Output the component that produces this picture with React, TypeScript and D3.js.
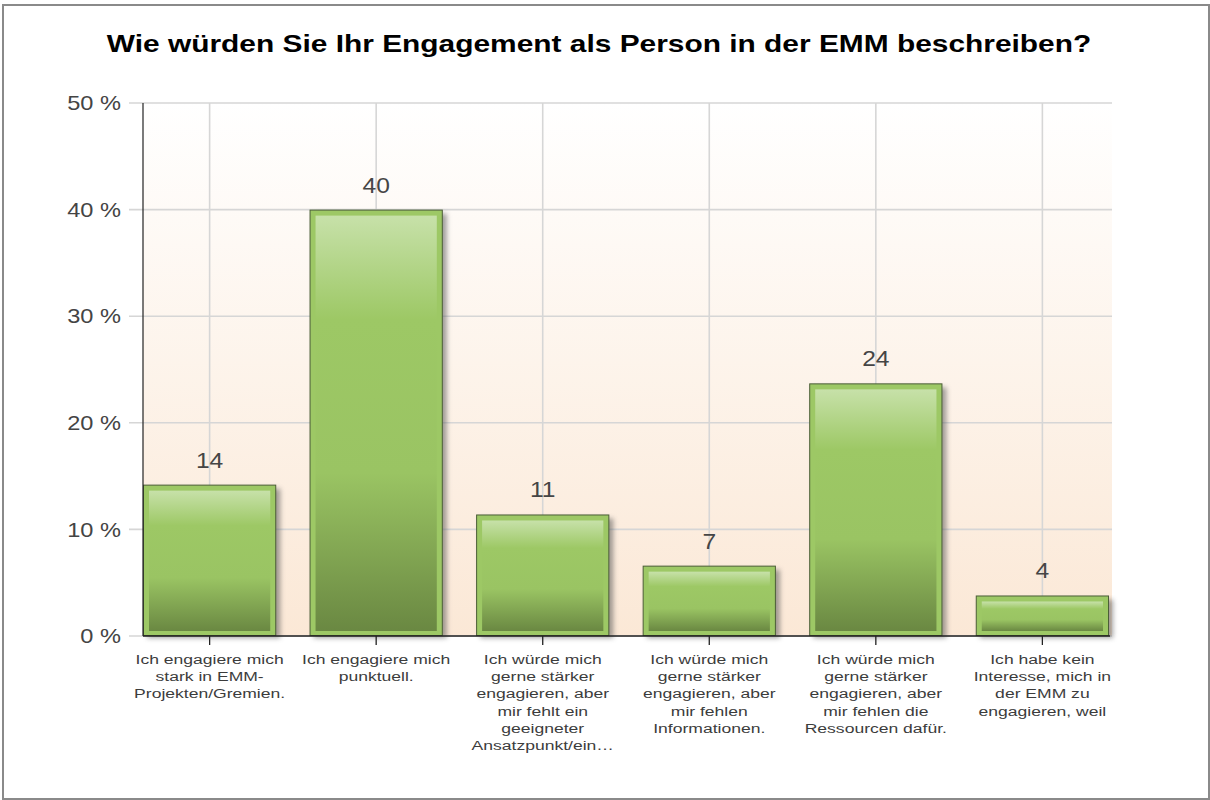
import React from "react";
import * as d3 from "d3";

// Survey: "Wie würden Sie Ihr Engagement als Person in der EMM beschreiben?"
const title = "Wie würden Sie Ihr Engagement als Person in der EMM beschreiben?";

const categories: string[][] = [
  ["Ich engagiere mich", "stark in EMM-", "Projekten/Gremien."],
  ["Ich engagiere mich", "punktuell."],
  ["Ich würde mich", "gerne stärker", "engagieren, aber", "mir fehlt ein", "geeigneter", "Ansatzpunkt/ein\u2026"],
  ["Ich würde mich", "gerne stärker", "engagieren, aber", "mir fehlen", "Informationen."],
  ["Ich würde mich", "gerne stärker", "engagieren, aber", "mir fehlen die", "Ressourcen dafür."],
  ["Ich habe kein", "Interesse, mich in", "der EMM zu", "engagieren, weil"],
];

const percents = [14.2, 40.0, 11.4, 6.6, 23.7, 3.8];
const yTicks = [0, 10, 20, 30, 40, 50];

const W = 1210;
const H = 800;
const FONT = "'Liberation Sans', Arial, Helvetica, sans-serif";

const margin = { top: 103, left: 143, right: 101, bottom: 164 };

export default function App() {
  const ids = categories.map((_, i) => String(i));
  const x = d3
    .scaleBand<string>()
    .domain(ids)
    .range([margin.left, W - margin.right])
    .paddingInner(0.2)
    .paddingOuter(0);
  const y = d3
    .scaleLinear()
    .domain([0, 50])
    .range([H - margin.bottom, margin.top]);

  const x0 = margin.left;
  const x1 = W - margin.right + 3;
  const yBottom = y(0);
  const yTop = y(50);
  const bw = x.bandwidth();

  return (
    <svg
      width={W}
      height={H}
      style={{ position: "absolute", left: 0, top: 0, fontFamily: FONT }}
    >
      <defs>
        <linearGradient id="plotBg" x1="0" y1="0" x2="0" y2="1">
          <stop offset="0" stopColor="#ffffff" />
          <stop offset="1" stopColor="#fbe8d6" />
        </linearGradient>
        <linearGradient id="barFill" x1="0" y1="0" x2="0" y2="1">
          <stop offset="0" stopColor="#c7e1a9" />
          <stop offset="0.25" stopColor="#9dc865" />
          <stop offset="0.62" stopColor="#9ac463" />
          <stop offset="1" stopColor="#6a8842" />
        </linearGradient>
        <filter id="shadow" x="-10%" y="-10%" width="130%" height="130%">
          <feGaussianBlur stdDeviation="2.5" />
        </filter>
      </defs>

      <rect x={0} y={0} width={W} height={H} fill="#ffffff" />
      <rect x={3} y={5} width={W - 4} height={H - 6} fill="none" stroke="#8a8a8a" strokeWidth={2} />

      <text
        transform={`translate(${599},${52}) scale(1.3,1)`}
        textAnchor="middle"
        fontSize={23}
        fontWeight="bold"
        fill="#000"
      >
        {title}
      </text>

      {/* plot background */}
      <rect x={x0} y={yTop} width={x1 - x0} height={yBottom - yTop} fill="url(#plotBg)" />

      {/* horizontal grid + y ticks */}
      {yTicks.map((t) => (
        <g key={"h" + t}>
          <line x1={x0 - 14} x2={x1} y1={y(t)} y2={y(t)} stroke="#d6d6d6" strokeWidth={1.6} />
          <text
            transform={`translate(${121},${y(t)}) scale(1.18,1)`}
            dy="0.36em"
            textAnchor="end"
            fontSize={20}
            fill="#444"
          >
            {`${t} %`}
          </text>
        </g>
      ))}

      {/* vertical grid */}
      {ids.map((id) => {
        const cx = (x(id) as number) + bw / 2;
        return <line key={"v" + id} x1={cx} x2={cx} y1={yTop} y2={yBottom} stroke="#d6d6d6" strokeWidth={1.6} />;
      })}

      {/* bars */}
      {percents.map((v, i) => {
        const bx = x(String(i)) as number;
        const by = y(v);
        const bh = yBottom - by;
        const cx = bx + bw / 2;
        return (
          <g key={"b" + i}>
            <rect x={bx + 4} y={by + 4} width={bw} height={bh - 2} fill="#555" opacity={0.55} filter="url(#shadow)" />
            <rect x={bx + 0.5} y={by + 0.5} width={bw - 1} height={bh - 1} fill="#9dc865" stroke="#4b5e37" strokeWidth={1} />
            <rect x={bx + 6} y={by + 6} width={bw - 12} height={Math.max(0, bh - 11)} fill="url(#barFill)" />
            <text
              transform={`translate(${cx},${by - 17}) scale(1.12,1)`}
              textAnchor="middle"
              fontSize={22}
              fill="#454545"
            >
              {Math.round(v)}
            </text>
          </g>
        );
      })}

      {/* axes */}
      <line x1={x0} x2={x0} y1={yTop} y2={yBottom} stroke="#222" strokeWidth={1.2} />
      <line x1={x0} x2={x1 - 2} y1={yBottom} y2={yBottom} stroke="#222" strokeWidth={1.5} />

      {ids.map((id, i) => {
        const cx = (x(id) as number) + bw / 2;
        return (
          <g key={"l" + id}>
            <line x1={cx} x2={cx} y1={yBottom} y2={yBottom + 9} stroke="#222" strokeWidth={1.3} />
            {categories[i].map((line, j) => (
              <text
                key={j}
                transform={`translate(${cx},${664 + j * 17.2}) scale(1.3,1)`}
                textAnchor="middle"
                fontSize={13.5}
                fill="#3c3c3c"
              >
                {line}
              </text>
            ))}
          </g>
        );
      })}
    </svg>
  );
}
